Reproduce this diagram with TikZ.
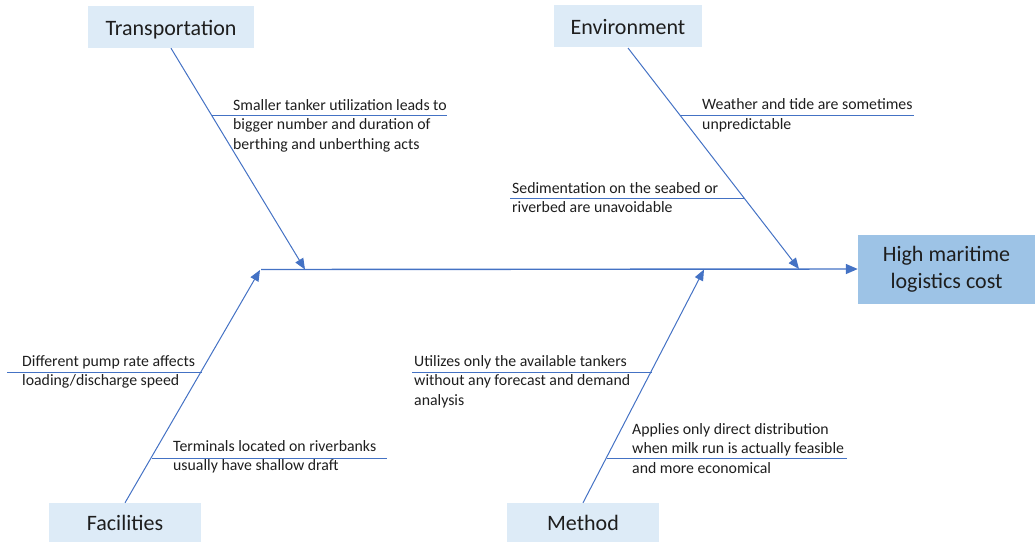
\documentclass[tikz,border=0pt]{standalone}
\usepackage{fontspec}
\setmainfont{Carlito}
\usetikzlibrary{arrows.meta}
\definecolor{bone}{HTML}{4472C4}
\definecolor{catfill}{HTML}{DDEBF7}
\definecolor{headfill}{HTML}{9DC3E6}
\definecolor{ink}{HTML}{1E1E1E}
\begin{document}
\begin{tikzpicture}[x=1pt,y=-1pt,
  category/.style={fill=catfill, draw=none, inner sep=0pt,
    minimum width=#1, minimum height=42pt, text=ink,
    text height=18pt, text depth=2pt,
    font=\fontsize{22}{26}\selectfont},
  category/.default=150pt,
  effectbox/.style={fill=headfill, draw=none, inner sep=0pt,
    minimum width=177pt, minimum height=69pt, text=ink, align=center,
    font=\fontsize{22}{27}\selectfont},
  cause/.style={anchor=west, inner sep=0pt, align=left, text=ink,
    font=\fontsize{15.8}{19.5}\selectfont},
  bonetip/.style={draw=bone, line width=1pt,
    -{Triangle[length=11pt,width=9pt]}, fill=none},
  spineline/.style={draw=bone, line width=1.4pt,
    -{Triangle[length=12pt,width=10pt]}},
  rib/.style={draw=bone, line width=1pt}
]
\useasboundingbox (0,0) rectangle (1035,542);

% category boxes and the effect
\node[category=166pt] (trans) at (171,27) {Transportation};
\node[category=148pt] (env)   at (628,26) {Environment};
\node[category=152pt, minimum height=39pt] (fac)  at (125,522.5) {Facilities};
\node[category=152pt, minimum height=39pt] (meth) at (583,522.5) {Method};
\node[effectbox] (effect) at (946.5,269) {High maritime\\logistics cost};

% points where the bones meet the spine
\coordinate (tail) at (261,269.5);
\coordinate (tT) at (305,269.5);
\coordinate (tE) at (799,269);
\coordinate (tF) at (260,270);
\coordinate (tM) at (704,269.5);

% spine
\draw[spineline] (tail) -- (effect.west);

% main bones
\draw[bonetip] (trans.south) -- (tT);
\draw[bonetip] (env.south |- 0,48) -- (tE);
\draw[bonetip] (fac.north) -- (tF);
\draw[bonetip] (meth.north) -- (tM);

% ribs
\coordinate (r1a) at (212,115);  \coordinate (r1b) at (447,115);
\coordinate (r2a) at (680,115);  \coordinate (r2b) at (914,115);
\coordinate (r3a) at (743.5,198);\coordinate (r3b) at (510,198);
\coordinate (r4a) at (202,372);  \coordinate (r4b) at (7,372);
\coordinate (r5a) at (152,458);  \coordinate (r5b) at (387,458);
\coordinate (r6a) at (652,372);  \coordinate (r6b) at (412,372);
\coordinate (r7a) at (607,458);  \coordinate (r7b) at (847,458);
\draw[rib] (r1a) -- (r1b);
\draw[rib] (r2a) -- (r2b);
\draw[rib] (r3a) -- (r3b);
\draw[rib] (r4a) -- (r4b);
\draw[rib] (r5a) -- (r5b);
\draw[rib] (r6a) -- (r6b);
\draw[rib] (r7a) -- (r7b);

% causes
\node[cause] (c1) at (233,125.5) {Smaller tanker utilization leads to\\bigger number and duration of\\berthing and unberthing acts};
\node[cause] (c2) at (702,115.5) {Weather and tide are sometimes\\unpredictable};
\node[cause] (c3) at (512,197.5) {Sedimentation on the seabed or\\riverbed are unavoidable};
\node[cause] (c4) at (22,372) {Different pump rate affects\\loading/discharge speed};
\node[cause] (c5) at (173,457) {Terminals located on riverbanks\\usually have shallow draft};
\node[cause] (c6) at (414,381.5) {Utilizes only the available tankers\\without any forecast and demand\\analysis};
\node[cause] (c7) at (632,448.5) {Applies only direct distribution\\when milk run is actually feasible\\and more economical};
\end{tikzpicture}
\end{document}
